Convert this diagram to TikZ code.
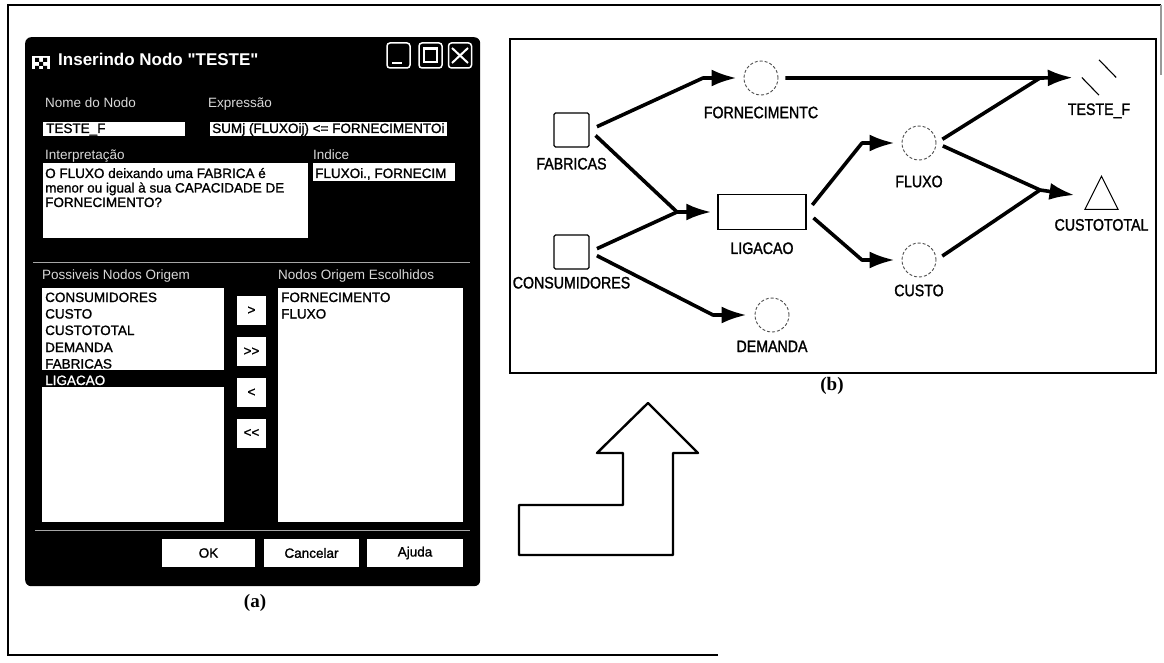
\documentclass[tikz,border=0pt]{standalone}
\usepackage{fontspec}
\setmainfont{Liberation Sans}
\newfontfamily\uifont{Liberation Sans}
\newfontfamily\uiboldfont[FakeBold=1.2]{Liberation Sans}
\newfontfamily\labfont[FakeStretch=0.86,FakeBold=1.4]{Liberation Sans}
\newfontfamily\capfont{Liberation Serif}
\usetikzlibrary{arrows.meta,positioning,shapes.geometric}

\begin{document}
\begin{tikzpicture}[x=1pt,y=-1pt,
dlgtxt/.style={font=\uifont\fontsize{13.5}{15}\selectfont,inner sep=0pt,anchor=base west},
lbl/.style={dlgtxt,text=white!85!black},
entry/.style={dlgtxt,font=\uiboldfont\fontsize{13.5}{15}\selectfont,text=black},
field/.style={fill=white,inner sep=0pt,anchor=north west},
btn/.style={fill=white,inner sep=0pt,font=\uiboldfont\fontsize{13.5}{15}\selectfont},
winbtn/.style={draw=white,line width=1.5pt,rounded corners=3pt,inner sep=0pt,minimum width=23pt,minimum height=25pt},
sq/.style={draw,line width=1.4pt,rounded corners=1.5pt,inner sep=0pt,minimum width=35pt,minimum height=34pt},
circ/.style={circle,draw=black!70,densely dashed,line width=0.9pt,inner sep=0pt,minimum size=34pt},
lab/.style={font=\labfont\fontsize{16.5}{18}\selectfont,inner sep=0pt},
link/.style={line width=3.6pt,line join=round},
arr/.style={link,-{Latex[length=25pt,width=17pt]}},
rule/.style={draw=black!35,line width=1pt},
capt/.style={font=\capfont\bfseries\fontsize{19}{21}\selectfont,inner sep=0pt}
]
\useasboundingbox (0,0) rectangle (1164,663);
\fill[white] (0,0) rectangle (1164,663);

% outer frame
\draw[line width=1.6pt] (718,655) -- (8,655) -- (8,5) -- (1161,5);
\draw[black!40,line width=1.2pt] (1161,5) -- (1161,75);

% (a) dialog
\node[fill=black,rounded corners=6pt,minimum width=455pt,minimum height=549pt,anchor=north west,inner sep=0pt] (dlg) at (25,37) {};
\fill[white] (32,56) rectangle (50,69);
\fill[black] (35,58) rectangle (39,62) (43,58) rectangle (47,62) (39,62) rectangle (43,66) (35,66) rectangle (39,69) (43,66) rectangle (47,69);
\node[anchor=base west,inner sep=0pt,text=white,font=\uifont\fontsize{17}{19}\selectfont\bfseries] (title) at (58,66) {Inserindo Nodo "TESTE"};
\node[winbtn] (wmin) at (398.5,55.5) {};
\node[winbtn] (wmax) at (430.5,55.5) {};
\node[winbtn] (wclose) at (460,55.5) {};
\draw[white,line width=2.2pt] (392,63) -- (402,63);
\draw[white,line width=1.5pt] (424,48) rectangle (437,62);
\draw[white,line width=2.2pt] (424,48.5) -- (437,48.5);
\draw[white,line width=2pt] (452,48) -- (468,63) (452,63) -- (468,48);

\node[lbl] (tnome) at (45,108) {Nome do Nodo};
\node[field,minimum width=142pt,minimum height=14pt] (fnome) at (43,122) {};
\node[entry] (vnome) at (46,133) {TESTE\_F};
\node[lbl] (texpr) at (208,108) {Expressão};
\node[field,minimum width=237pt,minimum height=14pt] (fexpr) at (210,122) {};
\node[entry] (vexpr) at (212,133) {SUMj (FLUXOij) <= FORNECIMENTOi};
\node[lbl] (tinterp) at (45,160) {Interpretação};
\node[field,minimum width=265pt,minimum height=75pt] (finterp) at (43,163) {};
\node[entry] (vi1) at (45,178) {O FLUXO deixando uma FABRICA é};
\node[entry] (vi2) at (45,192.5) {menor ou igual à sua CAPACIDADE DE};
\node[entry] (vi3) at (45,207) {FORNECIMENTO?};
\node[lbl] (tind) at (313,160) {Indice};
\node[field,minimum width=142pt,minimum height=18pt] (find) at (313,163) {};
\node[entry] (vind) at (315,178) {FLUXOi., FORNECIM};

\draw[rule] (33,262) -- (470,262);
\node[lbl] (torig) at (42,279) {Possiveis Nodos Origem};
\node[field,minimum width=182pt,minimum height=234pt] (lorig) at (42,288) {};
\node[field,fill=black,minimum width=182pt,minimum height=17pt] (hl) at (42,370) {};
\node[entry] (o1) at (45,302) {CONSUMIDORES};
\node[entry] (o2) at (45,318.5) {CUSTO};
\node[entry] (o3) at (45,335) {CUSTOTOTAL};
\node[entry] (o4) at (45,352) {DEMANDA};
\node[entry] (o5) at (45,368.5) {FABRICAS};
\node[entry,text=white] (o6) at (45,385) {LIGACAO};
\node[lbl] (tesc) at (278,279) {Nodos Origem Escolhidos};
\node[field,minimum width=185pt,minimum height=234pt] (lesc) at (278,288) {};
\node[entry] (e1) at (281,302) {FORNECIMENTO};
\node[entry] (e2) at (281,318.5) {FLUXO};

\node[btn,minimum width=29pt,minimum height=29pt] (bsel) at (251.5,310.5) {>};
\node[btn,minimum width=29pt,minimum height=29pt] (ball) at (251.5,351.5) {>>};
\node[btn,minimum width=29pt,minimum height=29pt] (bdes) at (251.5,392.5) {<};
\node[btn,minimum width=29pt,minimum height=29pt] (bnone) at (251.5,433) {<<};

\draw[rule] (35,530) -- (470,530);
\node[btn,minimum width=93pt,minimum height=28pt] (bok) at (208.5,553) {OK};
\node[btn,minimum width=95pt,minimum height=28pt] (bcan) at (311.5,553) {Cancelar};
\node[btn,minimum width=96pt,minimum height=28pt] (baj) at (415,553) {Ajuda};
\node[capt] (capa) at (255,603) {(a)};

% (b) model
\node[draw,line width=2.2pt,minimum width=646pt,minimum height=334pt,anchor=north west,inner sep=0pt] (pb) at (509,38) {};
\node[capt] (capb) at (832,386) {(b)};

\node[sq] (fab) at (571.5,130) {};
\node[lab,below=10pt of fab] (tfab) {FABRICAS};
\node[sq] (cons) at (571.5,252) {};
\node[lab,below=7pt of cons] (tcons) {CONSUMIDORES};
\node[circ] (forn) at (761,78) {};
\node[lab,below=11pt of forn] (tforn) {FORNECIMENTC};
\node[draw,line width=1.4pt,inner sep=0pt,minimum width=88pt,minimum height=35pt] (lig) at (762,212) {};
\node[lab,below=12pt of lig] (tlig) {LIGACAO};
\node[circ] (fluxo) at (919,143) {};
\node[lab,below=15pt of fluxo] (tfluxo) {FLUXO};
\node[circ] (custo) at (919,260) {};
\node[lab,below=7pt of custo] (tcusto) {CUSTO};
\node[circ] (dem) at (772,315) {};
\node[lab,below=8pt of dem] (tdem) {DEMANDA};
\node[diamond,minimum width=34pt,minimum height=35pt,inner sep=0pt] (teste) at (1099,77.5) {};
\draw[line width=1.1pt] (teste.north) -- (teste.east) (teste.west) -- (teste.south);
\node[lab,below=8pt of teste] (tteste) {TESTE\_F};
\node[isosceles triangle,isosceles triangle stretches,shape border rotate=90,draw,line width=1pt,inner sep=0pt,minimum width=33pt,minimum height=33pt,anchor=apex] (ctot) at (1101.5,175) {};
\node[lab,below=9pt of ctot] (tctot) {CUSTOTOTAL};

\coordinate (kForn) at (703,78);
\coordinate (kLig) at (677,212);
\coordinate (kDem) at (713,315);
\coordinate (kFlx) at (862,143);
\coordinate (kCus) at (862,260);
\coordinate (kTes) at (1040,78);
\coordinate (kTot) at (1040,190);

\draw[arr,shorten <=8pt,shorten >=7pt] (fab.east) -- (kForn) -- (forn.west);
\draw[arr,shorten <=8pt,shorten >=6pt] (fab.east) -- (kLig) -- (lig.west);
\draw[link,shorten <=8pt] (cons.east) -- (kLig);
\draw[arr,shorten <=8pt,shorten >=8pt] (cons.east) -- (kDem) -- (dem.west);
\draw[arr,shorten <=7pt,shorten >=9pt] (forn.east) -- (kTes) -- (teste.west);
\draw[link,shorten <=7pt] (fluxo.east) -- (kTes);
\draw[arr,shorten <=7pt,shorten >=16pt] (fluxo.east) -- (kTot) -- (ctot);
\draw[link,shorten <=7pt] (custo.east) -- (kTot);
\draw[arr,shorten <=9pt,shorten >=7pt] (lig.east) -- (kFlx) -- (fluxo.west);
\draw[arr,shorten <=9pt,shorten >=7pt] (lig.east) -- (kCus) -- (custo.west);

% hollow arrow
\draw[line width=2.4pt,line join=round] (519,505) -- (623,505) -- (623,453) -- (597,453) -- (648,403) -- (698,453) -- (673,453) -- (673,555) -- (519,555) -- cycle;
\end{tikzpicture}
\end{document}
